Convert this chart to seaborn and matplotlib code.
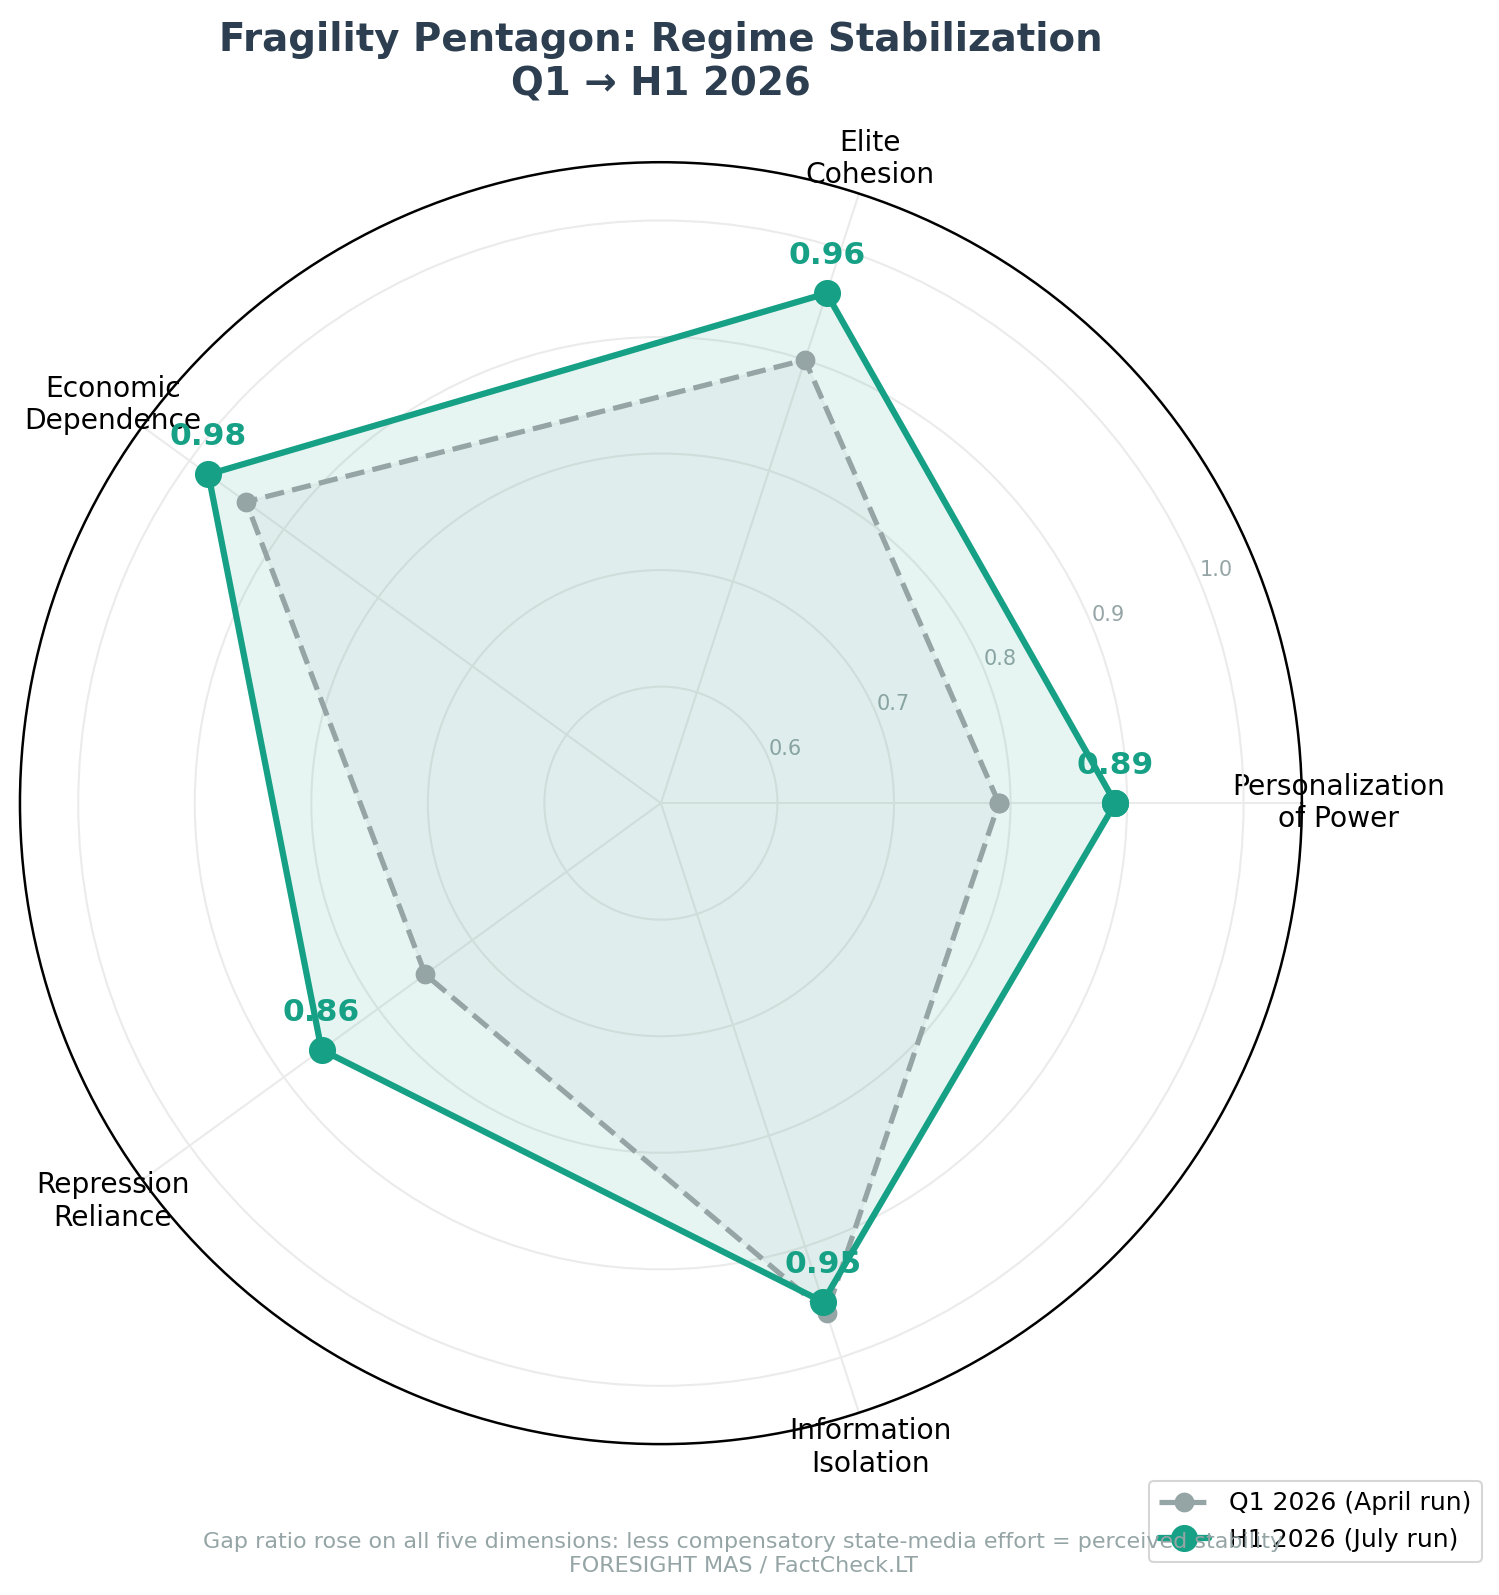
"""
Fragility pentagon radar chart, Q1 vs H1 2026
"""
import numpy as np
import seaborn as sns
from matplotlib import pyplot as plt

sns.set_style('white')

#------------------------------------------------------------------------------
# Data
#------------------------------------------------------------------------------
categories = ['Personalization\nof Power', 'Elite\nCohesion', 'Economic\nDependence',
              'Repression\nReliance', 'Information\nIsolation']
q1_values = [0.79, 0.90, 0.94, 0.75, 0.96]
h1_values = [0.89, 0.96, 0.98, 0.86, 0.95]
series_names = ['Q1 2026 (April run)', 'H1 2026 (July run)']
r_ticks = [0.6, 0.7, 0.8, 0.9, 1.0]

teal = '#16a085'
grey = '#95a5a6'
navy = '#2c3e50'

angles = np.linspace(0, 2 * np.pi, len(categories), endpoint=False)
angles_closed = np.append(angles, angles[0])
q1_closed = np.append(q1_values, q1_values[0])
h1_closed = np.append(h1_values, h1_values[0])

#------------------------------------------------------------------------------
# Plot figure
#------------------------------------------------------------------------------
fig = plt.figure(figsize=(1499 / 150, 1595 / 150), dpi=150)
ax = fig.add_axes([0.0133, 0.0946, 0.8552, 0.8037], polar=True)

ax.plot(angles_closed, q1_closed, color=grey, linestyle='--', linewidth=2.5,
        marker='o', markersize=9.5, markeredgewidth=0, label=series_names[0])
ax.fill(angles_closed, q1_closed, color=grey, alpha=0.08)

ax.plot(angles_closed, h1_closed, color=teal, linewidth=3,
        marker='o', markersize=13, markeredgewidth=0, label=series_names[1])
ax.fill(angles_closed, h1_closed, color=teal, alpha=0.1)

for ang, val in zip(angles, h1_values):
    ax.annotate(f'{val:.2f}', xy=(ang, val), xytext=(0, 18), textcoords='offset points',
                ha='center', va='center', fontsize=15, fontweight='bold', color=teal)

ax.set_ylim(0.5, 1.05)
ax.set_yticks(r_ticks)
ax.set_yticklabels([f'{t:.1f}' for t in r_ticks], fontsize=10, color=grey)
ax.set_rlabel_position(22.5)
ax.set_xticks(angles)
ax.set_xticklabels(categories, fontsize=13.5, color='black')
ax.tick_params(axis='x', pad=7)
ax.grid(True, color='#ebebeb', linewidth=1)
ax.spines['polar'].set_color('black')
ax.spines['polar'].set_linewidth(1.2)

fig.text(0.441, 0.961, 'Fragility Pentagon: Regime Stabilization\nQ1 \u2192 H1 2026',
         ha='center', va='center', fontsize=18.6, fontweight='bold', color=navy)

fig.text(0.496, 0.026,
         'Gap ratio rose on all five dimensions: less compensatory state-media effort = perceived stability\n'
         'FORESIGHT MAS / FactCheck.LT',
         ha='center', va='center', fontsize=10.7, color=grey)

ax.legend(loc='lower right', bbox_to_anchor=(0.9967, 0.013),
          bbox_transform=fig.transFigure, fontsize=12, frameon=True,
          labelcolor='black')

#------------------------------------------------------------------------------
# Save figure
#------------------------------------------------------------------------------
plt.savefig('out.png', dpi=150)
